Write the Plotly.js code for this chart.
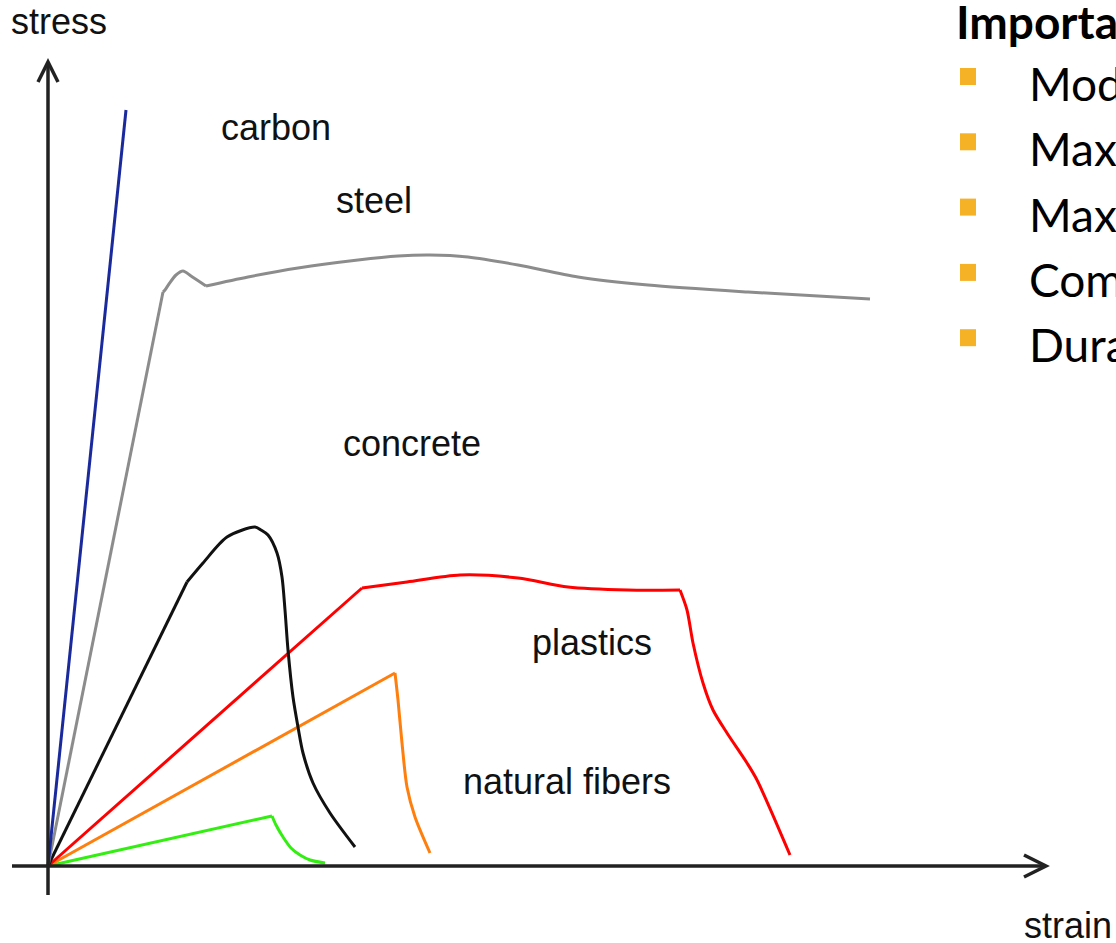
<!DOCTYPE html>
<html>
<head>
<meta charset="utf-8">
<script src="https://cdn.plot.ly/plotly-3.0.1.min.js"></script>
<style>
html,body{margin:0;padding:0;background:#fff;overflow:hidden;}
#chart{width:1116px;height:943px;}
</style>
</head>
<body>
<div id="chart"></div>
<script>
// Values (arbitrary strain / stress units, origin at the axis crossing)
const carbonStrain = [0, 78];
const carbonStress = [0, 756];

const steelStrain = [0, 115, 117, 121, 128, 135, 143, 158, 200, 250, 310, 350, 382, 420, 470, 530, 600, 700, 822];
const steelStress = [0, 574, 576, 582, 591, 595, 590, 580, 589, 598, 606, 610, 611, 609, 601, 589, 581, 574, 567];

const concreteStrain = [0, 139, 155, 179, 207, 213, 220, 229, 234, 237, 240, 245, 250, 255, 265, 282, 307];
const concreteStress = [0, 284, 303, 329, 339, 336, 331, 313, 289, 256, 216, 169, 139, 113, 83, 53, 19];

const plasticsStrain = [0, 314, 359, 412, 470, 520, 580, 632, 639, 645, 655, 665, 679, 699, 709, 742];
const plasticsStress = [0, 278, 284, 291, 288, 279, 276, 276, 256, 223, 183, 156, 133, 103, 86, 11];

const fibersStrain = [0, 347, 350, 354, 359, 367, 382];
const fibersStress = [0, 193, 166, 123, 79, 49, 13];

const naturalStrain = [0, 224, 228, 235, 243, 252, 262, 277];
const naturalStress = [0, 50, 41, 29, 18, 11, 6, 3];

const curveLabels = ["carbon", "steel", "concrete", "plastics", "natural fibers"];
const labelStrain = [228, 326, 364, 544, 519];
const labelStress = [739, 666, 423, 224, 85];

const heading = "Important properties";
const bullets = ["Modulus of elasticity", "Max. stress", "Max. strain", "Compression strength", "Durability"];

const xRange = [-48, 1068];
const yRange = [-77, 866];

// draw a curve as straight pieces up to each break index and smooth pieces after
function curve(x, y, color, breaks) {
  const out = [];
  const pts = [0].concat(breaks).concat([x.length - 1]);
  for (let k = 0; k < pts.length - 1; k++) {
    const a = pts[k], b = pts[k + 1];
    if (b <= a) continue;
    out.push({x: x.slice(a, b + 1), y: y.slice(a, b + 1), type: 'scatter', mode: 'lines',
      hoverinfo: 'skip', showlegend: false,
      line: {color: color, width: 3, shape: k === 0 ? 'linear' : 'spline', smoothing: 0.8}});
  }
  return out;
}

const traces = [].concat(
  curve(naturalStrain, naturalStress, '#33ee11', [1]),
  curve(fibersStrain, fibersStress, '#ff7f0e', [1]),
  curve(plasticsStrain, plasticsStress, '#ff0000', [1, 7]),
  curve(concreteStrain, concreteStress, '#111111', [1]),
  curve(steelStrain, steelStress, '#8c8c8c', [1, 7]),
  curve(carbonStrain, carbonStress, '#1a2a9c', [])
);

const labelFont = {family: 'Liberation Sans, Arial, sans-serif', size: 36, color: '#111'};
const annotations = [];
curveLabels.forEach((t, i) => {
  annotations.push({x: labelStrain[i], y: labelStress[i], xref: 'x', yref: 'y', text: t,
    showarrow: false, xanchor: 'center', yanchor: 'middle', font: labelFont});
});
annotations.push({x: 11, y: 845, xref: 'x', yref: 'y', text: 'stress', showarrow: false,
  xanchor: 'center', yanchor: 'middle', font: labelFont});
annotations.push({x: 974, y: -59, xref: 'x', yref: 'y', text: 'strain', showarrow: false,
  xanchor: 'left', yanchor: 'middle', font: labelFont});

const boxFont = {family: 'Lato, "Noto Sans", sans-serif', size: 46, color: '#000'};
annotations.push({x: 906, y: 844.5, xref: 'x', yref: 'y', text: '<b>' + heading + '</b>', showarrow: false,
  xanchor: 'left', yanchor: 'middle', font: boxFont});
const shapes = [];
bullets.forEach((b, i) => {
  const yc = 782.5 - i * 65.3;
  annotations.push({x: 979, y: yc, xref: 'x', yref: 'y', text: b, showarrow: false,
    xanchor: 'left', yanchor: 'middle', font: boxFont});
  shapes.push({type: 'rect', xref: 'x', yref: 'y', x0: 912, x1: 928, y0: yc - 1.5, y1: yc + 15.5,
    fillcolor: '#f5b227', line: {width: 0}});
});

// axes with open arrow heads
const axisLine = {color: '#222', width: 3.5};
shapes.push({type: 'line', xref: 'x', yref: 'y', x0: 0, y0: -29, x1: 0, y1: 803, line: axisLine});
shapes.push({type: 'path', xref: 'x', yref: 'y', path: 'M -10,784 L 0,804 L 10,784', line: axisLine});
shapes.push({type: 'line', xref: 'x', yref: 'y', x0: -36, y0: 0, x1: 997, y1: 0, line: axisLine});
shapes.push({type: 'path', xref: 'x', yref: 'y', path: 'M 976,11 L 998,0 L 976,-11', line: axisLine});

const layout = {
  width: 1116, height: 943,
  margin: {l: 0, r: 0, t: 0, b: 0, pad: 0},
  paper_bgcolor: '#fff', plot_bgcolor: '#fff',
  xaxis: {range: xRange, visible: false, fixedrange: true},
  yaxis: {range: yRange, visible: false, fixedrange: true},
  showlegend: false,
  annotations: annotations,
  shapes: shapes
};

Plotly.newPlot('chart', traces, layout, {displayModeBar: false, staticPlot: true});
</script>
</body>
</html>
